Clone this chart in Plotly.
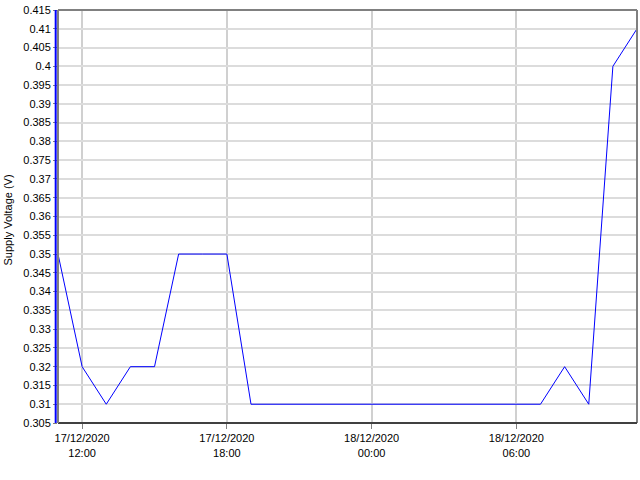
import plotly.graph_objects as go

times = [
    "2020-12-17 11:00", "2020-12-17 12:00", "2020-12-17 13:00", "2020-12-17 14:00",
    "2020-12-17 15:00", "2020-12-17 16:00", "2020-12-17 17:00", "2020-12-17 18:00",
    "2020-12-17 19:00", "2020-12-17 20:00", "2020-12-17 21:00", "2020-12-17 22:00",
    "2020-12-17 23:00", "2020-12-18 00:00", "2020-12-18 01:00", "2020-12-18 02:00",
    "2020-12-18 03:00", "2020-12-18 04:00", "2020-12-18 05:00", "2020-12-18 06:00",
    "2020-12-18 07:00", "2020-12-18 08:00", "2020-12-18 09:00", "2020-12-18 10:00",
    "2020-12-18 11:00",
]
voltage = [
    0.35, 0.32, 0.31, 0.32, 0.32, 0.35, 0.35, 0.35,
    0.31, 0.31, 0.31, 0.31, 0.31, 0.31, 0.31, 0.31,
    0.31, 0.31, 0.31, 0.31, 0.31, 0.32, 0.31, 0.40, 0.41,
]

x_tickvals = ["2020-12-17 12:00", "2020-12-17 18:00", "2020-12-18 00:00", "2020-12-18 06:00"]
x_ticktext = ["17/12/2020<br>12:00", "17/12/2020<br>18:00", "18/12/2020<br>00:00", "18/12/2020<br>06:00"]

y_tickvals = [round(0.305 + 0.005 * i, 3) for i in range(23)]
y_ticktext = [("%.3f" % v).rstrip("0").rstrip(".") for v in y_tickvals]

fig = go.Figure()
fig.add_trace(go.Scatter(
    x=times, y=voltage, mode="lines",
    line=dict(color="#0000ff", width=1),
    hoverinfo="x+y",
))

font = dict(family="Liberation Sans, Arial, sans-serif", size=11, color="#000000")

fig.update_layout(
    width=640, height=480,
    margin=dict(l=58, r=3, t=10, b=57, autoexpand=False),
    paper_bgcolor="white", plot_bgcolor="white",
    showlegend=False,
    font=font,
    xaxis=dict(
        range=["2020-12-17 11:00", "2020-12-18 11:00"],
        tickvals=x_tickvals, ticktext=x_ticktext,
        showgrid=True, gridcolor="#d0d0d0", gridwidth=2,
        ticks="outside", ticklen=5, tickcolor="#808080", tickwidth=1,
        showline=False, zeroline=False, automargin=False,
        tickfont=font,
    ),
    yaxis=dict(
        range=[0.305, 0.415],
        tickvals=y_tickvals, ticktext=y_ticktext,
        showgrid=True, gridcolor="#dcdcdc", gridwidth=2,
        ticks="outside", ticklen=4, tickcolor="#808080", tickwidth=1,
        showline=False, zeroline=False, automargin=False,
        tickfont=font,
    ),
    annotations=[
        dict(text="Supply Voltage (V)", xref="paper", yref="paper", x=0, y=0.5,
             xanchor="center", yanchor="middle", xshift=-51, yshift=-4,
             textangle=-90, showarrow=False, font=font),
    ],
    shapes=[
        dict(type="line", xref="paper", yref="paper", x0=0, x1=1, y0=1, y1=1,
             line=dict(color="#808080", width=2)),
        dict(type="line", xref="paper", yref="paper", x0=1, x1=1, y0=0, y1=1,
             line=dict(color="#808080", width=2)),
        dict(type="line", xref="paper", yref="paper", x0=0, x1=1, y0=0, y1=0,
             line=dict(color="#404040", width=2)),
        dict(type="line", xref="paper", yref="paper", x0=0, x1=0, y0=0, y1=1,
             line=dict(color="#808080", width=2)),
        dict(type="line", xref="paper", yref="paper", x0=-0.004, x1=-0.004, y0=0, y1=1,
             line=dict(color="#0000ff", width=2)),
    ],
)

fig.write_html("out.html", config={"displayModeBar": False},
               post_script="document.body.style.margin='0';")
